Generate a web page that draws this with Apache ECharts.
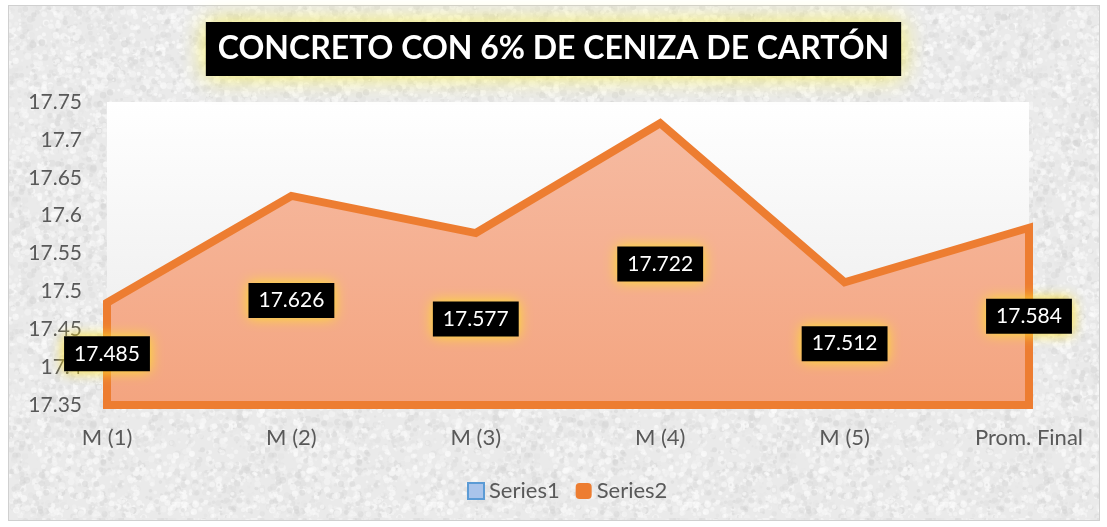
<!DOCTYPE html>
<html>
<head>
<meta charset="utf-8">
<script src="https://cdn.jsdelivr.net/npm/echarts@6/dist/echarts.min.js"></script>
<style>
  html, body { margin:0; padding:0; background:#ffffff; }
  #frame {
    position:absolute; left:8px; top:5px; width:1092px; height:516px;
    border:1px solid #d0d0d0; box-sizing:border-box;
  }
  #chart { position:absolute; left:0; top:0; width:1107px; height:527px; }
</style>
</head>
<body>
<div id="frame"></div>
<div id="chart"></div>
<script>
// datos del grafico
var categories = ['M (1)', 'M (2)', 'M (3)', 'M (4)', 'M (5)', 'Prom. Final'];
var series2 = [17.485, 17.626, 17.577, 17.722, 17.512, 17.584];
var yMin = 17.35, yMax = 17.75, yStep = 0.05;

// textura gris tipo granito para el fondo
function makeTexture() {
  var c = document.createElement('canvas');
  c.width = 256; c.height = 256;
  var ctx = c.getContext('2d');
  ctx.fillStyle = '#eaeaea';
  ctx.fillRect(0, 0, 256, 256);
  var seed = 12345;
  function rnd() { seed = (seed * 1103515245 + 12345) % 2147483648; return seed / 2147483648; }
  for (var i = 0; i < 3500; i++) {
    var x = rnd() * 256, y = rnd() * 256, r = 1 + rnd() * 2.5;
    var g = rnd() < 0.45 ? Math.round(212 + rnd() * 20) : Math.round(240 + rnd() * 15);
    ctx.fillStyle = 'rgba(' + g + ',' + g + ',' + g + ',0.55)';
    ctx.beginPath(); ctx.arc(x, y, r, 0, Math.PI * 2); ctx.fill();
  }
  return c.toDataURL();
}
document.getElementById('frame').style.backgroundImage = 'url(' + makeTexture() + ')';

var myChart = echarts.init(document.getElementById('chart'));
var font = 'Lato, "Open Sans", sans-serif';

var option = {
  backgroundColor: 'transparent',
  title: {
    text: 'CONCRETO CON 6% DE CENIZA DE CARTÓN',
    left: 'center',
    top: 22,
    padding: [11, 12],
    backgroundColor: '#000000',
    shadowBlur: 24,
    shadowColor: 'rgba(248,240,100,1)',
    textStyle: { color: '#ffffff', fontSize: 32, fontWeight: 'bold', fontFamily: font }
  },
  legend: {
    bottom: 20,
    left: 462,
    itemGap: 16,
    itemWidth: 16,
    itemHeight: 16,
    textStyle: { color: '#595959', fontSize: 22, fontFamily: font },
    data: [
      { name: 'Series1', icon: 'rect', itemStyle: { color: '#a9c4eb', borderColor: '#5b9bd5', borderWidth: 2 } },
      { name: 'Series2', icon: 'roundRect', itemStyle: { color: '#ed7d31' } }
    ]
  },
  grid: {
    left: 107, right: 78, top: 102, bottom: 122,
    show: true,
    borderWidth: 0,
    backgroundColor: new echarts.graphic.LinearGradient(0, 0, 0, 1, [
      { offset: 0, color: '#ffffff' },
      { offset: 1, color: '#e9e9e9' }
    ])
  },
  xAxis: {
    type: 'category',
    data: categories,
    boundaryGap: false,
    axisLine: { lineStyle: { color: '#c8c8c8', width: 1 } },
    axisTick: { show: false },
    axisLabel: { color: '#595959', fontSize: 22, fontFamily: font, margin: 22 },
    splitLine: { show: false }
  },
  yAxis: {
    type: 'value',
    min: yMin, max: yMax, interval: yStep,
    axisLine: { show: false },
    axisTick: { show: false },
    splitLine: { show: false },
    axisLabel: {
      color: '#595959', fontSize: 21, fontFamily: font, margin: 25,
      formatter: function (v) { return String(Number(v.toFixed(2))); }
    }
  },
  series: [
    { name: 'Series1', type: 'line', data: [] },
    {
      name: 'Series2',
      type: 'custom',
      clip: false,
      data: [[0, series2[0]]],
      renderItem: function (params, api) {
        var pts = [];
        for (var i = 0; i < series2.length; i++) pts.push(api.coord([i, series2[i]]));
        pts.push(api.coord([series2.length - 1, yMin]), api.coord([0, yMin]));
        return {
          type: 'polygon',
          shape: { points: pts },
          style: {
            fill: new echarts.graphic.LinearGradient(0, 0, 0, 1, [
              { offset: 0, color: '#f6bba2' },
              { offset: 1, color: '#f4a47f' }
            ]),
            stroke: '#ed7d31',
            lineWidth: 8,
            lineJoin: 'miter'
          }
        };
      }
    },
    {
      name: 'etiquetas',
      type: 'scatter',
      silent: true,
      symbolSize: 1,
      itemStyle: { color: 'rgba(0,0,0,0)', opacity: 1 },
      data: series2.map(function (v, i) { return [i, (v + yMin) / 2]; }),
      z: 5,
      label: {
        show: true,
        position: 'inside',
        formatter: function (p) { return series2[p.dataIndex].toFixed(3); },
        color: '#ffffff',
        fontSize: 21,
        fontFamily: font,
        lineHeight: 23,
        backgroundColor: '#000000',
        padding: [6, 10],
        shadowBlur: 14,
        shadowColor: 'rgba(255,225,40,1)'
      }
    }
  ]
};
myChart.setOption(option);
</script>
</body>
</html>
